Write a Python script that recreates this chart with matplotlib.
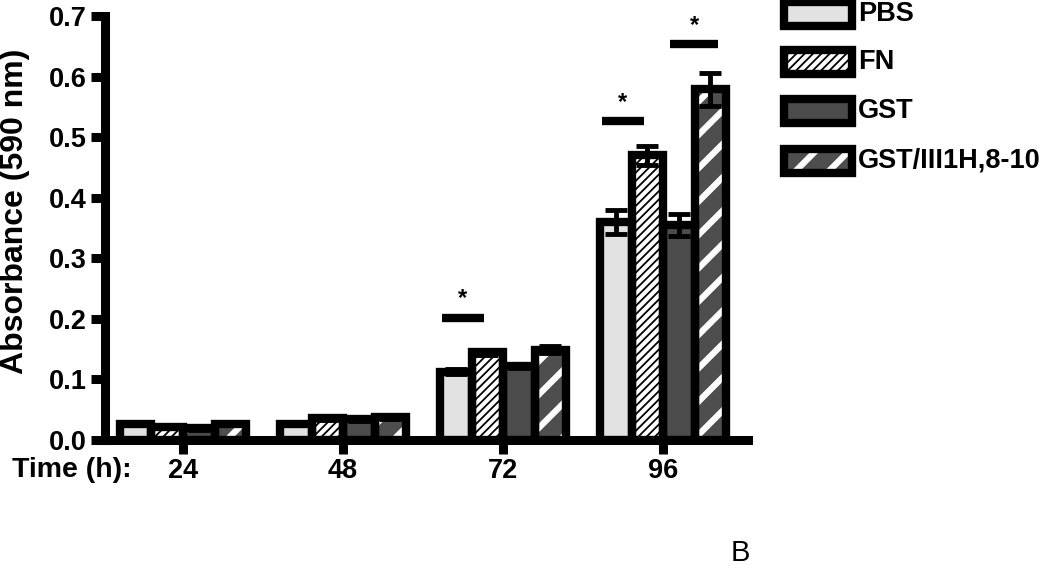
import matplotlib
matplotlib.use("Agg")
import matplotlib.pyplot as plt
import numpy as np
from matplotlib.patches import Rectangle

plt.rcParams['font.family'] = ['Liberation Sans', 'DejaVu Sans']

times = ["24", "48", "72", "96"]
series = ["PBS", "FN", "GST", "GST/III1H,8-10"]
pbs = [0.027, 0.027, 0.113, 0.360]
fn = [0.021, 0.036, 0.145, 0.470]
gst = [0.019, 0.034, 0.122, 0.355]
gst3 = [0.027, 0.038, 0.149, 0.579]
pbs_err = [0.002, 0.002, 0.004, 0.020]
fn_err = [0.002, 0.003, 0.004, 0.016]
gst_err = [0.002, 0.002, 0.003, 0.018]
gst3_err = [0.003, 0.003, 0.006, 0.027]
# significance bars: time index and height
sig_group = [2, 3, 3]
sig_height = [0.202, 0.527, 0.654]
sig_side = ["left", "left", "right"]

values = [pbs, fn, gst, gst3]
errors = [pbs_err, fn_err, gst_err, gst3_err]
faces = ["#e2e2e2", "white", "#4b4b4b", "#4e4e4e"]
hatch_cols = [None, "black", None, "white"]
hatches = [None, "////", None, "/"]
hatch_lws = [1.0, 1.3, 1.0, 4.5]

fig = plt.figure(figsize=(10.5, 5.75), dpi=100)
ax = fig.add_axes([0.1, (575 - 440) / 575, 0.6124, (440 - 16) / 575])

x = np.arange(len(times))
w = 0.197
LW = 6.0
for i, (vals, errs) in enumerate(zip(values, errors)):
    pos = x + (i - 1.5) * w
    with plt.rc_context({'hatch.linewidth': hatch_lws[i]}):
        fill = ax.bar(pos, vals, w, color=faces[i],
                      edgecolor=hatch_cols[i] if hatch_cols[i] else faces[i],
                      hatch=hatches[i], linewidth=0, zorder=2)
        for p in fill:
            if hasattr(p, 'set_hatch_linewidth'):
                p.set_hatch_linewidth(hatch_lws[i])
    ax.bar(pos, vals, w, facecolor='none', edgecolor='black', linewidth=LW, zorder=3)
    ax.errorbar(pos, vals, yerr=errs, fmt='none', ecolor='black', elinewidth=3.5,
                capsize=8, capthick=3.5, zorder=4)

for g, h, side in zip(sig_group, sig_height, sig_side):
    if side == "left":
        x0, x1 = g - 0.385, g - 0.12
    else:
        x0, x1 = g + 0.045, g + 0.34
    ax.plot([x0, x1], [h, h], color='black', linewidth=6, solid_capstyle='butt', zorder=5)
    ax.text((x0 + x1) / 2, h + 0.012, "*", ha='center', va='bottom', fontsize=17,
            fontweight='bold')

ax.set_xlim(-0.4875, 3.53)
ax.set_ylim(0, 0.7)
ax.set_yticks(np.arange(0, 0.71, 0.1))
ax.set_yticklabels([f"{v:.1f}" for v in np.arange(0, 0.71, 0.1)])
ax.set_xticks(x)
ax.set_xticklabels(times)
for s in ['top', 'right']:
    ax.spines[s].set_visible(False)
for s in ['left', 'bottom']:
    ax.spines[s].set_linewidth(6.5)
ax.spines['left'].set_capstyle('projecting')
ax.tick_params(axis='both', width=6.5, length=10, labelsize=19.5, pad=3)
for lab in ax.get_xticklabels() + ax.get_yticklabels():
    lab.set_fontweight('bold')
fig.text(15 / 1050, 1 - 211 / 575, "Absorbance (590 nm)", fontsize=23, fontweight='bold',
         rotation=90, ha='center', va='center')
fig.text(12 / 1050, 1 - 470 / 575, "Time (h):", fontsize=20.5, fontweight='bold',
         ha='left', va='center')

# legend drawn manually
lx0, lw_, lh = 784, 68, 24
rows = [14, 62, 111, 161]
for i, (name, yc) in enumerate(zip(series, rows)):
    bx = lx0 / 1050
    by = 1 - (yc + lh / 2) / 575
    with plt.rc_context({'hatch.linewidth': hatch_lws[i]}):
        r = Rectangle((bx, by), lw_ / 1050, lh / 575, transform=fig.transFigure,
                      facecolor=faces[i],
                      edgecolor=hatch_cols[i] if hatch_cols[i] else faces[i],
                      hatch=hatches[i], linewidth=0)
        if hasattr(r, 'set_hatch_linewidth'):
            r.set_hatch_linewidth(hatch_lws[i])
    fig.add_artist(r)
    fig.add_artist(Rectangle((bx, by), lw_ / 1050, lh / 575, transform=fig.transFigure,
                             facecolor='none', edgecolor='black', linewidth=LW))
    fig.text(858 / 1050, 1 - yc / 575, name, fontsize=19.5, fontweight='bold',
             ha='left', va='center')

fig.text(740 / 1050, 1 - 553 / 575, "B", fontsize=21, ha='center', va='center')

fig.savefig("out.png", dpi=100)
